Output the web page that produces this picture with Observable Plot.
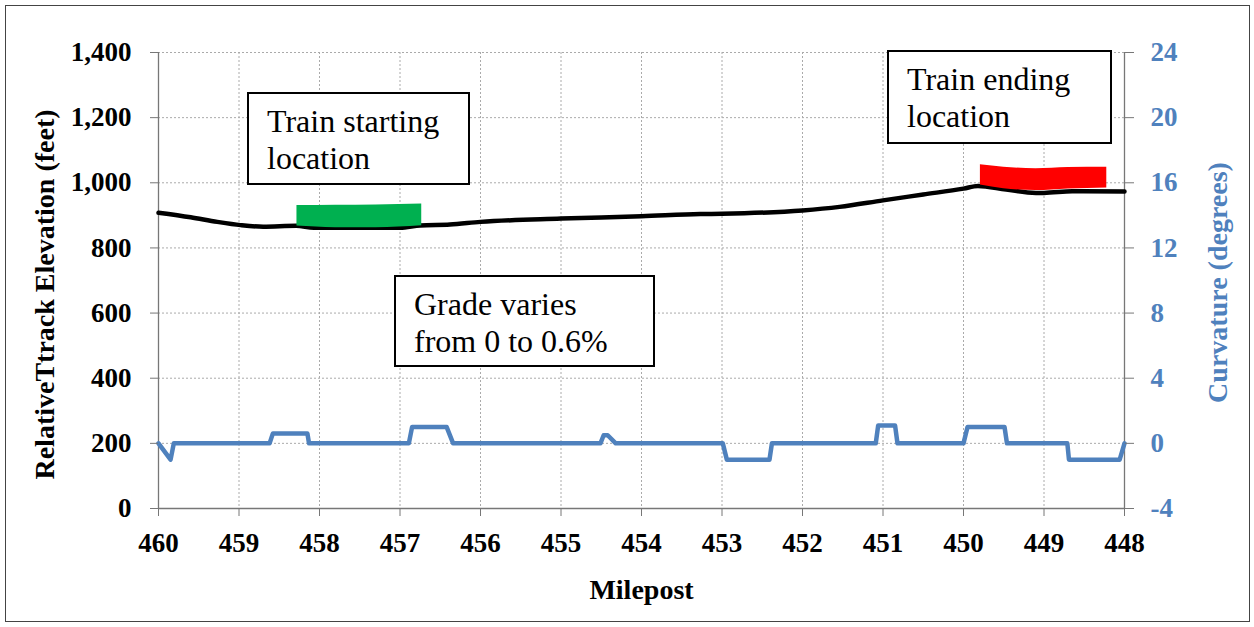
<!DOCTYPE html>
<html>
<head>
<meta charset="utf-8">
<script src="https://cdn.jsdelivr.net/npm/d3@7"></script>
<script src="https://cdn.jsdelivr.net/npm/@observablehq/plot@0.6"></script>
<style>
  html, body { margin: 0; padding: 0; background: #fff; }
  #wrap { position: relative; width: 1254px; height: 627px; overflow: hidden; font-family: "Liberation Serif", Tinos, "DejaVu Serif", serif; }
  #wrap svg { position: absolute; left: 0; top: 0; }
  .frame { position: absolute; left: 5px; top: 5px; width: 1243px; height: 615px; border: 1px solid #444; }
  .note { position: absolute; box-sizing: border-box; border: 2px solid #000; background: #fff; font-size: 32px; line-height: 36.7px; color: #000; padding: 9px 0 0 18px; white-space: nowrap; font-family: "Liberation Serif", Tinos, "DejaVu Serif", serif; }
</style>
</head>
<body>
<div id="wrap">
  <div class="frame"></div>
</div>
<script>
// ---- data ----
const xTicks = [460, 459, 458, 457, 456, 455, 454, 453, 452, 451, 450, 449, 448];
const elevTicks = [0, 200, 400, 600, 800, 1000, 1200, 1400];
const curvTicks = [-4, 0, 4, 8, 12, 16, 20, 24];

// Track elevation (feet) vs milepost
const elevMile = [460, 459.6, 459.27, 458.98, 458.7, 458.29, 458.07, 457.0, 456.75, 456.38, 456.0, 455.0, 454.0, 453.27, 453.0, 452.0, 451.54, 451.0, 450.5, 450.0, 449.82, 449.47, 449.1, 449.0, 448.65, 448.0];
const elevFeet = [908, 894, 880, 870, 865, 868, 862, 862, 869, 872, 880, 890, 897, 904, 905, 915, 926, 946, 964, 982, 990, 979, 969, 969, 974, 973];

// Curvature (degrees) vs milepost
const curvMile = [460, 459.85, 459.81, 458.62, 458.58, 458.15, 458.13, 456.89, 456.85, 456.42, 456.34, 454.51, 454.47, 454.42, 454.32, 452.99, 452.94, 452.41, 452.38, 451.09, 451.06, 450.85, 450.82, 450.0, 449.95, 449.49, 449.46, 448.71, 448.69, 448.06, 448.0];
const curvDeg  = [0, -1, 0, 0, 0.6, 0.6, 0, 0, 1, 1, 0, 0, 0.5, 0.5, 0, 0, -1, -1, 0, 0, 1.1, 1.1, 0, 0, 1, 1, 0, 0, -1, -1, 0];

// Train start (green) and end (red) marker bands
const startMile = [458.28, 457.8, 457.3, 456.73];
const startTop = [930, 931, 932, 935];
const startBottom = [867, 862, 862, 868];
const endMile = [449.79, 449.5, 449.1, 448.7, 448.22];
const endTop = [1055, 1048, 1043, 1047, 1048];
const endBottom = [993, 982, 976, 981, 984];

// Curvature is drawn on the elevation scale: 0 deg = 200 ft, 4 deg = 200 ft
const curvToElev = c => 200 + c * 50;

const elevRows = elevMile.map((m, i) => ({m, e: elevFeet[i]}));
const curvRows = curvMile.map((m, i) => ({m, c: curvDeg[i]}));
const startRows = startMile.map((m, i) => ({m, lo: startBottom[i], hi: startTop[i]}));
const endRows = endMile.map((m, i) => ({m, lo: endBottom[i], hi: endTop[i]}));

const blue = "#4F81BD";
const axisGray = "#777";
const serif = "'Liberation Serif', Tinos, 'DejaVu Serif', serif";
const fmtComma = d3.format(",");

const chart = Plot.plot({
  width: 1254,
  height: 627,
  marginLeft: 158,
  marginRight: 130,
  marginTop: 52,
  marginBottom: 119,
  x: {domain: [xTicks[0], xTicks[xTicks.length - 1]]},
  y: {domain: [elevTicks[0], elevTicks[elevTicks.length - 1]]},
  style: {fontFamily: serif, background: "transparent", color: "#000"},
  marks: [
    Plot.gridX(xTicks.slice(1, -1), {stroke: "#aaa", strokeOpacity: 1, strokeDasharray: "2,2"}),
    Plot.gridY(elevTicks.slice(1), {stroke: "#aaa", strokeOpacity: 1, strokeDasharray: "2,2"}),
    Plot.ruleX([xTicks[0], xTicks[xTicks.length - 1]], {stroke: axisGray, strokeWidth: 1.3}),
    Plot.ruleY([elevTicks[0]], {stroke: axisGray, strokeWidth: 1.3}),
    Plot.line(curvRows, {x: "m", y: d => curvToElev(d.c), stroke: blue, strokeWidth: 4.5, strokeLinejoin: "round"}),
    Plot.line(elevRows, {x: "m", y: "e", stroke: "#000", strokeWidth: 4.5, curve: "monotone-x"}),
    Plot.areaY(startRows, {x: "m", y1: "lo", y2: "hi", fill: "#00B050", curve: "monotone-x"}),
    Plot.areaY(endRows, {x: "m", y1: "lo", y2: "hi", fill: "#FF0000", curve: "monotone-x"}),
    // bottom axis
    Plot.axisX(xTicks, {anchor: "bottom", tickSize: 8, tickPadding: 16, tickFormat: d => String(d), fontSize: 27, fontWeight: "bold", stroke: axisGray, color: "#000", label: null}),
    // left axis
    Plot.axisY(elevTicks, {anchor: "left", tickSize: 8, tickPadding: 19, tickFormat: d => fmtComma(d), fontSize: 27, fontWeight: "bold", stroke: axisGray, color: "#000", label: null}),
    // right axis (curvature)
    Plot.axisY(curvTicks.map(curvToElev), {anchor: "right", tickSize: 9, tickPadding: 17, tickFormat: d => String((d - 200) / 50), fontSize: 27, fontWeight: "bold", stroke: axisGray, color: blue, fill: blue, label: null}),
    // axis titles
    Plot.text(["RelativeTtrack Elevation (feet)"], {frameAnchor: "left", textAnchor: "middle", dx: -113, dy: 14, rotate: -90, fontSize: 28, fontWeight: "bold", fill: "#000"}),
    Plot.text(["Curvature (degrees)"], {frameAnchor: "right", textAnchor: "middle", dx: 94, dy: 2, rotate: -90, fontSize: 28, fontWeight: "bold", fill: blue}),
    Plot.text(["Milepost"], {frameAnchor: "bottom", dy: 90, fontSize: 28, fontWeight: "bold", fill: "#000"})
  ]
});

const wrap = document.getElementById("wrap");
wrap.insertBefore(chart, wrap.firstChild);

// annotation boxes
const notes = [
  {lines: ["Train starting", "location"], left: 247, top: 92, w: 223, h: 93},
  {lines: ["Train ending", "location"], left: 887, top: 50, w: 225, h: 94},
  {lines: ["Grade varies", "from 0 to 0.6%"], left: 394, top: 275, w: 261, h: 92}
];
for (const n of notes) {
  const d = document.createElement("div");
  d.className = "note";
  d.style.left = n.left + "px";
  d.style.top = n.top + "px";
  d.style.width = n.w + "px";
  d.style.height = n.h + "px";
  d.innerHTML = n.lines.join("<br>");
  wrap.appendChild(d);
}
</script>
</body>
</html>
